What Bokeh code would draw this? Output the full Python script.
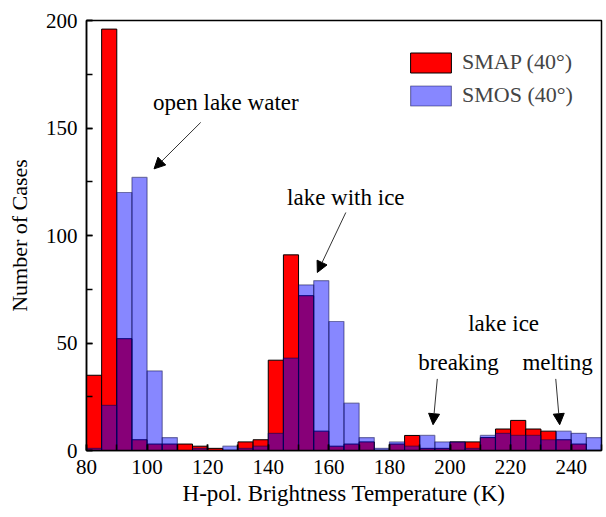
import numpy as np
from bokeh.plotting import figure
from bokeh.models import (Range1d, SingleIntervalTicker, Label, Arrow, NormalHead,
                          Legend, LegendItem, ColumnDataSource)
from bokeh.embed import file_html
from bokeh.resources import INLINE

# Histogram bins (K), width 5
bin_start = 80
bin_width = 5
smap_counts = [35, 196, 52, 5, 3, 3, 3, 2, 1, 0, 4, 5, 42, 91, 72, 9, 2, 3, 4, 0,
               3, 7, 1, 1, 4, 4, 6, 10, 14, 10, 9, 5, 3, 0]
smos_counts = [1, 21, 120, 127, 37, 6, 0, 1, 0, 2, 1, 2, 8, 43, 77, 79, 60, 22, 6, 1,
               4, 2, 7, 4, 4, 1, 7, 8, 7, 7, 5, 9, 8, 6]
series_names = ["SMAP (40\u00b0)", "SMOS (40\u00b0)"]

centers = bin_start + bin_width * (np.arange(len(smap_counts)) + 0.5)
src = ColumnDataSource(dict(x=centers, smap=smap_counts, smos=smos_counts))

FONT = "Liberation Serif"

p = figure(width=606, height=517, output_backend="svg", toolbar_location=None,
           x_range=Range1d(80, 250), y_range=Range1d(0, 200),
           min_border_left=86, min_border_right=5, min_border_top=20, min_border_bottom=67)
p.xgrid.visible = False
p.ygrid.visible = False
p.outline_line_color = "black"
p.outline_line_width = 1.5
p.background_fill_color = "white"

r1 = p.vbar(x="x", top="smap", width=bin_width, source=src, fill_color="#ff0000",
            line_color="black", line_width=1)
r2 = p.vbar(x="x", top="smos", width=bin_width, source=src, fill_color="#0000ff",
            fill_alpha=0.47, line_color="#000040", line_alpha=0.45, line_width=1.2)

for ax in (p.xaxis[0], p.yaxis[0]):
    ax.axis_line_width = 1.5
    ax.major_tick_in = 6
    ax.major_tick_out = 0
    ax.minor_tick_in = 6
    ax.minor_tick_out = 0
    ax.major_tick_line_width = 1.5
    ax.minor_tick_line_width = 1.5
    ax.major_label_text_font = FONT
    ax.major_label_text_font_size = "21px"
    ax.major_label_text_color = "black"
    ax.axis_label_text_font = FONT
    ax.axis_label_text_font_style = "normal"
    ax.axis_label_text_color = "black"

p.xaxis.axis_label_text_font_size = "23px"
p.yaxis.axis_label_text_font_size = "22px"
p.xaxis.ticker = SingleIntervalTicker(interval=20, num_minor_ticks=2)
p.yaxis.ticker = SingleIntervalTicker(interval=50, num_minor_ticks=2)
p.xaxis.axis_label = "H-pol. Brightness Temperature (K)"
p.yaxis.axis_label = "Number of Cases"
p.xaxis.major_label_standoff = 9
p.xaxis.axis_label_standoff = 4
p.yaxis.major_label_standoff = 9
p.yaxis.axis_label_standoff = 11

legend = Legend(items=[LegendItem(label=series_names[0], renderers=[r1]),
                       LegendItem(label=series_names[1], renderers=[r2])],
                location=(319, 342), orientation="vertical")
legend.border_line_color = None
legend.background_fill_alpha = 0
legend.padding = 0
legend.margin = 0
legend.spacing = 7
legend.glyph_width = 51
legend.glyph_height = 25
legend.label_height = 25
legend.label_standoff = 6
legend.label_text_font = FONT
legend.label_text_font_size = "22px"
p.add_layout(legend)

def add_label(txt, x, y):
    p.add_layout(Label(x=x, y=y, text=txt, text_font=FONT, text_font_size="23px",
                       text_align="center", text_baseline="middle", text_color="black"))

add_label("open lake water", 126, 162)
add_label("lake with ice", 165.6, 117.7)
add_label("lake ice", 217.7, 59.2)
add_label("breaking", 202.8, 41.1)
add_label("melting", 235.5, 41.1)

def add_arrow(x0, y0, x1, y1):
    p.add_layout(Arrow(x_start=x0, y_start=y0, x_end=x1, y_end=y1,
                       line_color="#333333", line_width=1,
                       end=NormalHead(size=11, fill_color="black", line_color="black")))

add_arrow(117.7, 152.6, 102.3, 131.0)
add_arrow(165.6, 110.7, 156.2, 82.8)
add_arrow(195.8, 33.3, 194.4, 12.0)
add_arrow(234.9, 33.3, 236.2, 12.0)

open("out.html", "w").write(file_html(p, INLINE))
